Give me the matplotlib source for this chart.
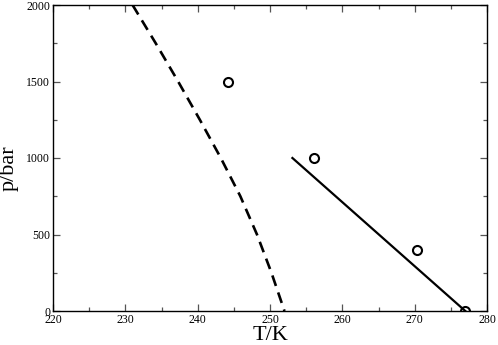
import matplotlib
matplotlib.use("Agg")
import matplotlib.pyplot as plt
from matplotlib.ticker import MultipleLocator

# Data
dashed_T = [231.0, 234.2, 237.3, 240.3, 243.2, 245.9, 248.2, 250.2, 252.0]
dashed_p = [2000, 1750, 1500, 1250, 1000, 750, 500, 250, 0]
solid_T = [253.1, 277.0]
solid_p = [1000, 0]
circ_T = [244.2, 256.1, 270.3, 277.0]
circ_p = [1500, 1000, 400, 0]

plt.rcParams['font.family'] = ['Liberation Serif', 'DejaVu Serif']

fig = plt.figure(figsize=(4.98, 3.45), dpi=100)
ax = fig.add_axes([53/498, 1-311/345, (487-53)/498, (311-5)/345])

ax.plot(dashed_T, dashed_p, color='black', lw=1.9, dashes=(4.2, 2.6))
ax.plot(solid_T, solid_p, color='black', lw=1.6)
ax.plot(circ_T, circ_p, linestyle='none', marker='o', ms=6.5,
        mfc='none', mec='black', mew=1.5)

ax.set_xlim(220, 280)
ax.set_ylim(0, 2000)
ax.xaxis.set_major_locator(MultipleLocator(10))
ax.xaxis.set_minor_locator(MultipleLocator(5))
ax.yaxis.set_major_locator(MultipleLocator(500))
ax.yaxis.set_minor_locator(MultipleLocator(250))
ax.tick_params(which='both', direction='in', top=True, right=True,
               labelsize=8.5, color='#555555', width=0.9)
ax.tick_params(which='major', length=5, pad=2)
ax.tick_params(which='minor', length=3)
for s in ax.spines.values():
    s.set_linewidth(1.0)

ax.set_xlabel('T/K', fontsize=16, labelpad=0)
ax.set_ylabel('p/bar', fontsize=16)
ax.yaxis.set_label_coords(-0.08, 0.466)

fig.savefig('out.png', dpi=100)
